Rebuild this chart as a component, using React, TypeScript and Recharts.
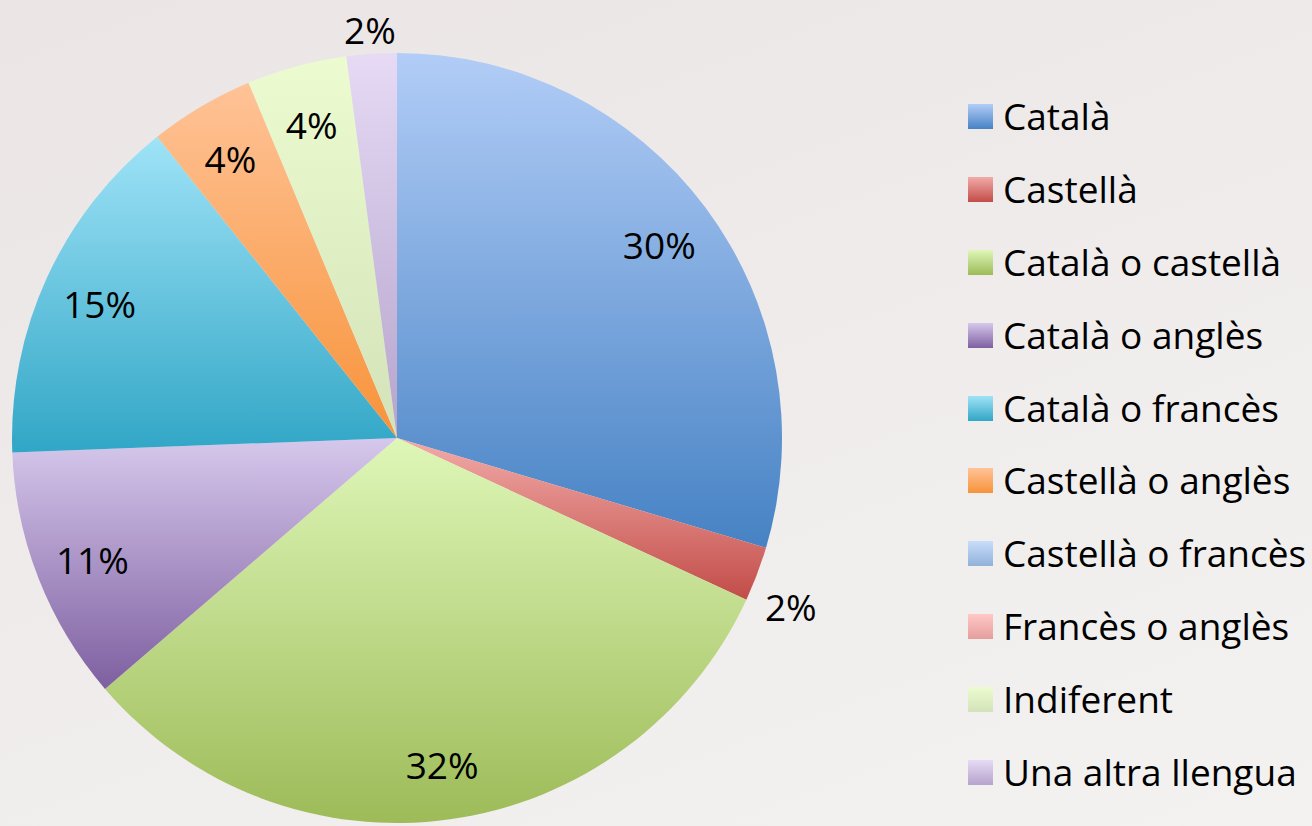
import React from "react";
import { PieChart, Pie, Cell, Legend } from "recharts";

const languages = [
  "Català",
  "Castellà",
  "Català o castellà",
  "Català o anglès",
  "Català o francès",
  "Castellà o anglès",
  "Castellà o francès",
  "Francès o anglès",
  "Indiferent",
  "Una altra llengua",
];
const shares = [29.6, 2.3, 31.8, 10.7, 14.9, 4.4, 0, 0, 4.2, 2.1];
const topColors = [
  "#b2cdf7", "#f2aba8", "#def7b8", "#d6c8ec", "#9fe3f7",
  "#ffc397", "#c8ddfb", "#ffc8c6", "#ecfcd0", "#e6daf5",
];
const bottomColors = [
  "#4682c4", "#c24c48", "#9dbb58", "#7e5fa0", "#31a6c6",
  "#f7933a", "#91b1d9", "#e49e9c", "#d3e2b8", "#b5a4cc",
];

const data = languages.map((name, i) => ({ name, value: shares[i], idx: i }));

const RADIAN = Math.PI / 180;
const FONT = "'Open Sans', 'Noto Sans', sans-serif";

const renderLabel = (props: any) => {
  const { cx, cy, midAngle, outerRadius, percent } = props;
  if (!percent || percent <= 0) return null;
  const small = percent < 0.03;
  const cos = Math.cos(-midAngle * RADIAN);
  const sin = Math.sin(-midAngle * RADIAN);
  const right = cos > 0.3;
  const r = small ? outerRadius + (right ? 36 : 26) : outerRadius * 0.85;
  const x = cx + r * cos;
  const y = cy + r * sin + (small && right ? 18 : 0) + 2;
  return (
    <text
      x={x}
      y={y}
      fill="#000"
      textAnchor="middle"
      dominantBaseline="central"
      style={{ fontFamily: FONT, fontSize: 37 }}
    >
      {`${Math.round(percent * 100)}%`}
    </text>
  );
};

const renderLegend = () => (
  <div style={{ fontFamily: FONT, fontSize: 37, color: "#000" }}>
    {languages.map((name, i) => (
      <div
        key={name}
        style={{ display: "flex", alignItems: "center", height: 72.9, whiteSpace: "nowrap" }}
      >
        <div
          style={{
            width: 25,
            height: 25,
            marginRight: 10,
            background: `linear-gradient(${topColors[i]}, ${bottomColors[i]})`,
          }}
        />
        <span style={{ lineHeight: "37px", marginTop: -2 }}>{name}</span>
      </div>
    ))}
  </div>
);

export default function App() {
  return (
    <div
      style={{
        position: "absolute",
        left: 0,
        top: 0,
        width: 1312,
        height: 826,
        overflow: "hidden",
        background: "linear-gradient(160deg, #ebe5e5 0%, #efebeb 45%, #f3f2f1 100%)",
      }}
    >
      <PieChart width={1312} height={826} margin={{ top: 0, right: 0, bottom: 0, left: 0 }}>
        <defs>
          {topColors.map((c, i) => (
            <linearGradient key={i} id={`grad${i}`} x1="0" y1="0" x2="0" y2="1">
              <stop offset="0%" stopColor={c} />
              <stop offset="100%" stopColor={bottomColors[i]} />
            </linearGradient>
          ))}
        </defs>
        <Pie
          data={data}
          dataKey="value"
          nameKey="name"
          cx={397}
          cy={438}
          outerRadius={385}
          startAngle={90}
          endAngle={-270}
          stroke="none"
          label={renderLabel}
          labelLine={false}
          isAnimationActive={false}
        >
          {data.map((d) => (
            <Cell key={d.name} fill={`url(#grad${d.idx})`} />
          ))}
        </Pie>
        <Legend
          layout="vertical"
          align="right"
          verticalAlign="top"
          content={renderLegend}
          wrapperStyle={{ left: 968, top: 80, width: 344 }}
        />
      </PieChart>
    </div>
  );
}
